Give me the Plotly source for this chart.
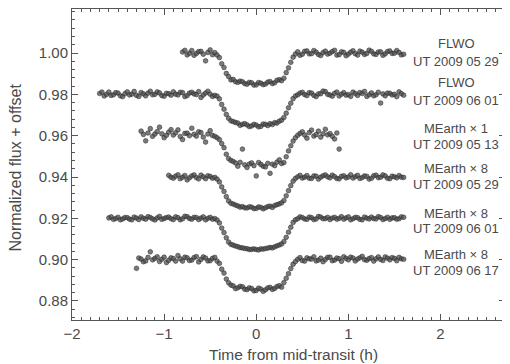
import plotly.graph_objects as go

# ---- data ----
# FLWO, UT 2009 05 29 (offset 0.00)
t1 = [-0.800,-0.775,-0.750,-0.725,-0.700,-0.675,-0.650,-0.625,
      -0.600,-0.575,-0.550,-0.525,-0.500,-0.475,-0.450,-0.425,
      -0.400,-0.375,-0.350,-0.325,-0.300,-0.275,-0.250,-0.225,
      -0.200,-0.175,-0.150,-0.125,-0.100,-0.075,-0.050,-0.025,
      0.000,0.025,0.050,0.075,0.100,0.125,0.150,0.175,
      0.200,0.225,0.250,0.275,0.300,0.325,0.350,0.375,
      0.400,0.425,0.450,0.475,0.500,0.525,0.550,0.575,
      0.600,0.625,0.650,0.675,0.700,0.725,0.750,0.775,
      0.800,0.825,0.850,0.875,0.900,0.925,0.950,0.975,
      1.000,1.025,1.050,1.075,1.100,1.125,1.150,1.175,
      1.200,1.225,1.250,1.275,1.300,1.325,1.350,1.375,
      1.400,1.425,1.450,1.475,1.500,1.525,1.550,1.575,
      1.600]
f1 = [1.0005,1.0013,0.9991,0.9999,1.0012,0.9989,0.9998,1.0007,
      1.0008,0.9994,0.9962,1.0003,1.0015,0.9992,1.0002,0.9990,
      0.9978,0.9948,0.9930,0.9901,0.9886,0.9870,0.9872,0.9861,
      0.9858,0.9864,0.9861,0.9852,0.9849,0.9858,0.9856,0.9845,
      0.9846,0.9857,0.9854,0.9847,0.9850,0.9859,0.9862,0.9852,
      0.9856,0.9868,0.9871,0.9866,0.9878,0.9905,0.9928,0.9955,
      0.9980,0.9995,1.0006,0.9989,0.9994,1.0008,1.0010,0.9996,
      0.9997,1.0012,1.0004,0.9993,0.9988,1.0002,1.0009,0.9995,
      0.9999,1.0007,1.0013,0.9990,0.9992,1.0006,1.0003,0.9987,
      0.9995,1.0004,1.0011,0.9997,0.9990,1.0009,1.0004,0.9993,
      0.9998,1.0014,1.0008,0.9996,0.9993,1.0005,1.0006,0.9989,
      0.9996,1.0007,1.0010,0.9998,0.9999,1.0012,1.0003,0.9991,
      0.9994]

# FLWO, UT 2009 06 01 (offset -0.02)
t2 = [-1.700,-1.675,-1.650,-1.625,-1.600,-1.575,-1.550,-1.525,
      -1.500,-1.475,-1.450,-1.425,-1.400,-1.375,-1.350,-1.325,
      -1.300,-1.275,-1.250,-1.225,-1.200,-1.175,-1.150,-1.125,
      -1.100,-1.075,-1.050,-1.025,-1.000,-0.975,-0.950,-0.925,
      -0.900,-0.875,-0.850,-0.825,-0.800,-0.775,-0.750,-0.725,
      -0.700,-0.675,-0.650,-0.625,-0.600,-0.575,-0.550,-0.525,
      -0.500,-0.475,-0.450,-0.425,-0.400,-0.375,-0.350,-0.325,
      -0.300,-0.275,-0.250,-0.225,-0.200,-0.175,-0.150,-0.125,
      -0.100,-0.075,-0.050,-0.025,0.000,0.025,0.050,0.075,
      0.100,0.125,0.150,0.175,0.200,0.225,0.250,0.275,
      0.300,0.325,0.350,0.375,0.400,0.425,0.450,0.475,
      0.500,0.525,0.550,0.575,0.600,0.625,0.650,0.675,
      0.700,0.725,0.750,0.775,0.800,0.825,0.850,0.875,
      0.900,0.925,0.950,0.975,1.000,1.025,1.050,1.075,
      1.100,1.125,1.150,1.175,1.200,1.225,1.250,1.275,
      1.300,1.325,1.350,1.375,1.400,1.425,1.450,1.475,
      1.500,1.525,1.550,1.575,1.600]
f2 = [0.9804,0.9811,0.9792,0.9800,0.9811,0.9795,0.9798,0.9808,
      0.9806,0.9793,0.9789,0.9803,0.9812,0.9797,0.9801,0.9814,
      0.9795,0.9790,0.9809,0.9802,0.9793,0.9806,0.9815,0.9798,
      0.9800,0.9812,0.9807,0.9794,0.9791,0.9805,0.9803,0.9796,
      0.9812,0.9801,0.9797,0.9810,0.9808,0.9789,0.9794,0.9806,
      0.9810,0.9802,0.9799,0.9813,0.9785,0.9797,0.9806,0.9815,
      0.9801,0.9790,0.9795,0.9791,0.9778,0.9751,0.9728,0.9703,
      0.9684,0.9672,0.9668,0.9664,0.9661,0.9650,0.9655,0.9658,
      0.9652,0.9644,0.9647,0.9655,0.9651,0.9643,0.9645,0.9656,
      0.9655,0.9649,0.9658,0.9654,0.9663,0.9661,0.9670,0.9675,
      0.9688,0.9709,0.9735,0.9757,0.9779,0.9792,0.9798,0.9806,
      0.9810,0.9799,0.9794,0.9808,0.9806,0.9795,0.9789,0.9802,
      0.9803,0.9816,0.9813,0.9800,0.9797,0.9791,0.9805,0.9811,
      0.9792,0.9801,0.9808,0.9796,0.9799,0.9790,0.9811,0.9804,
      0.9795,0.9809,0.9804,0.9814,0.9790,0.9798,0.9807,0.9793,
      0.9798,0.9810,0.9758,0.9802,0.9793,0.9806,0.9805,0.9797,
      0.9800,0.9789,0.9812,0.9803,0.9796]

# MEarth x 1, UT 2009 05 13 (offset -0.04)
t3 = [-1.250,-1.225,-1.200,-1.175,-1.150,-1.125,-1.100,-1.075,
      -1.050,-1.025,-1.000,-0.975,-0.950,-0.925,-0.900,-0.875,
      -0.850,-0.825,-0.800,-0.775,-0.750,-0.725,-0.700,-0.675,
      -0.650,-0.625,-0.600,-0.575,-0.550,-0.525,-0.500,-0.475,
      -0.450,-0.425,-0.400,-0.375,-0.350,-0.325,-0.300,-0.275,
      -0.250,-0.225,-0.200,-0.175,-0.150,-0.125,-0.100,-0.075,
      -0.050,-0.025,0.000,0.025,0.050,0.075,0.100,0.125,
      0.150,0.175,0.200,0.225,0.250,0.275,0.300,0.325,
      0.350,0.375,0.400,0.425,0.450,0.475,0.500,0.525,
      0.550,0.575,0.600,0.625,0.650,0.675,0.700,0.725,
      0.750,0.775,0.800,0.825,0.850,0.875,0.900]
f3 = [0.9622,0.9606,0.9575,0.9613,0.9634,0.9597,0.9608,0.9620,
      0.9641,0.9609,0.9590,0.9602,0.9617,0.9629,0.9603,0.9614,
      0.9628,0.9596,0.9581,0.9611,0.9612,0.9600,0.9636,0.9607,
      0.9598,0.9619,0.9615,0.9593,0.9569,0.9608,0.9624,0.9601,
      0.9597,0.9590,0.9581,0.9562,0.9542,0.9510,0.9489,0.9480,
      0.9475,0.9468,0.9452,0.9471,0.9535,0.9459,0.9446,0.9463,
      0.9468,0.9455,0.9405,0.9470,0.9461,0.9452,0.9449,0.9466,
      0.9418,0.9462,0.9455,0.9472,0.9483,0.9465,0.9470,0.9498,
      0.9526,0.9551,0.9574,0.9590,0.9602,0.9611,0.9619,0.9603,
      0.9588,0.9615,0.9627,0.9598,0.9605,0.9622,0.9593,0.9609,
      0.9631,0.9604,0.9610,0.9597,0.9584,0.9613,0.9535]

# MEarth x 8, UT 2009 05 29 (offset -0.06)
t4 = [-0.950,-0.925,-0.900,-0.875,-0.850,-0.825,-0.800,-0.775,
      -0.750,-0.725,-0.700,-0.675,-0.650,-0.625,-0.600,-0.575,
      -0.550,-0.525,-0.500,-0.475,-0.450,-0.425,-0.400,-0.375,
      -0.350,-0.325,-0.300,-0.275,-0.250,-0.225,-0.200,-0.175,
      -0.150,-0.125,-0.100,-0.075,-0.050,-0.025,0.000,0.025,
      0.050,0.075,0.100,0.125,0.150,0.175,0.200,0.225,
      0.250,0.275,0.300,0.325,0.350,0.375,0.400,0.425,
      0.450,0.475,0.500,0.525,0.550,0.575,0.600,0.625,
      0.650,0.675,0.700,0.725,0.750,0.775,0.800,0.825,
      0.850,0.875,0.900,0.925,0.950,0.975,1.000,1.025,
      1.050,1.075,1.100,1.125,1.150,1.175,1.200,1.225,
      1.250,1.275,1.300,1.325,1.350,1.375,1.400,1.425,
      1.450,1.475,1.500,1.525,1.550,1.575,1.600]
f4 = [0.9408,0.9399,0.9394,0.9404,0.9411,0.9392,0.9399,0.9407,
      0.9386,0.9396,0.9405,0.9410,0.9397,0.9391,0.9409,0.9401,
      0.9392,0.9406,0.9403,0.9394,0.9398,0.9390,0.9376,0.9352,
      0.9330,0.9305,0.9284,0.9273,0.9269,0.9264,0.9260,0.9254,
      0.9257,0.9251,0.9250,0.9256,0.9254,0.9247,0.9248,0.9255,
      0.9253,0.9246,0.9251,0.9257,0.9259,0.9253,0.9262,0.9266,
      0.9270,0.9275,0.9286,0.9309,0.9334,0.9358,0.9380,0.9393,
      0.9401,0.9408,0.9395,0.9399,0.9407,0.9394,0.9393,0.9405,
      0.9404,0.9390,0.9399,0.9406,0.9410,0.9401,0.9396,0.9409,
      0.9402,0.9393,0.9391,0.9403,0.9406,0.9396,0.9400,0.9411,
      0.9395,0.9402,0.9408,0.9393,0.9397,0.9405,0.9403,0.9390,
      0.9394,0.9406,0.9409,0.9397,0.9399,0.9410,0.9405,0.9394,
      0.9392,0.9404,0.9401,0.9396,0.9407,0.9399,0.9398]

# MEarth x 8, UT 2009 06 01 (offset -0.08)
t5 = [-1.600,-1.575,-1.550,-1.525,-1.500,-1.475,-1.450,-1.425,
      -1.400,-1.375,-1.350,-1.325,-1.300,-1.275,-1.250,-1.225,
      -1.200,-1.175,-1.150,-1.125,-1.100,-1.075,-1.050,-1.025,
      -1.000,-0.975,-0.950,-0.925,-0.900,-0.875,-0.850,-0.825,
      -0.800,-0.775,-0.750,-0.725,-0.700,-0.675,-0.650,-0.625,
      -0.600,-0.575,-0.550,-0.525,-0.500,-0.475,-0.450,-0.425,
      -0.400,-0.375,-0.350,-0.325,-0.300,-0.275,-0.250,-0.225,
      -0.200,-0.175,-0.150,-0.125,-0.100,-0.075,-0.050,-0.025,
      0.000,0.025,0.050,0.075,0.100,0.125,0.150,0.175,
      0.200,0.225,0.250,0.275,0.300,0.325,0.350,0.375,
      0.400,0.425,0.450,0.475,0.500,0.525,0.550,0.575,
      0.600,0.625,0.650,0.675,0.700,0.725,0.750,0.775,
      0.800,0.825,0.850,0.875,0.900,0.925,0.950,0.975,
      1.000,1.025,1.050,1.075,1.100,1.125,1.150,1.175,
      1.200,1.225,1.250,1.275,1.300,1.325,1.350,1.375,
      1.400,1.425,1.450,1.475,1.500,1.525,1.550,1.575,
      1.600]
f5 = [0.9202,0.9207,0.9195,0.9199,0.9205,0.9193,0.9197,0.9204,
      0.9203,0.9196,0.9193,0.9206,0.9201,0.9194,0.9207,0.9200,
      0.9196,0.9208,0.9204,0.9197,0.9192,0.9202,0.9209,0.9195,
      0.9199,0.9204,0.9206,0.9198,0.9194,0.9207,0.9203,0.9193,
      0.9198,0.9210,0.9208,0.9199,0.9196,0.9205,0.9204,0.9194,
      0.9201,0.9207,0.9193,0.9200,0.9205,0.9196,0.9199,0.9192,
      0.9178,0.9153,0.9131,0.9106,0.9085,0.9074,0.9070,0.9066,
      0.9063,0.9058,0.9057,0.9054,0.9053,0.9049,0.9050,0.9052,
      0.9049,0.9047,0.9052,0.9051,0.9054,0.9056,0.9059,0.9057,
      0.9062,0.9067,0.9071,0.9076,0.9087,0.9108,0.9133,0.9157,
      0.9180,0.9193,0.9198,0.9207,0.9204,0.9197,0.9195,0.9206,
      0.9203,0.9194,0.9197,0.9209,0.9206,0.9198,0.9199,0.9205,
      0.9194,0.9201,0.9205,0.9196,0.9200,0.9208,0.9196,0.9202,
      0.9207,0.9193,0.9198,0.9205,0.9203,0.9195,0.9193,0.9206,
      0.9201,0.9197,0.9206,0.9199,0.9197,0.9208,0.9204,0.9194,
      0.9199,0.9205,0.9195,0.9202,0.9203,0.9196,0.9198,0.9207,
      0.9205]

# MEarth x 8, UT 2009 06 17 (offset -0.10)
t6 = [-1.300,-1.275,-1.250,-1.225,-1.200,-1.175,-1.150,-1.125,
      -1.100,-1.075,-1.050,-1.025,-1.000,-0.975,-0.950,-0.925,
      -0.900,-0.875,-0.850,-0.825,-0.800,-0.775,-0.750,-0.725,
      -0.700,-0.675,-0.650,-0.625,-0.600,-0.575,-0.550,-0.525,
      -0.500,-0.475,-0.450,-0.425,-0.400,-0.375,-0.350,-0.325,
      -0.300,-0.275,-0.250,-0.225,-0.200,-0.175,-0.150,-0.125,
      -0.100,-0.075,-0.050,-0.025,0.000,0.025,0.050,0.075,
      0.100,0.125,0.150,0.175,0.200,0.225,0.250,0.275,
      0.300,0.325,0.350,0.375,0.400,0.425,0.450,0.475,
      0.500,0.525,0.550,0.575,0.600,0.625,0.650,0.675,
      0.700,0.725,0.750,0.775,0.800,0.825,0.850,0.875,
      0.900,0.925,0.950,0.975,1.000,1.025,1.050,1.075,
      1.100,1.125,1.150,1.175,1.200,1.225,1.250,1.275,
      1.300,1.325,1.350,1.375,1.400,1.425,1.450,1.475,
      1.500,1.525,1.550,1.575,1.600]
f6 = [0.8958,0.9008,0.9003,0.8990,0.8994,0.9011,0.9038,0.8999,
      0.9006,0.9014,0.8991,0.9002,0.9012,0.8986,0.8997,0.9009,
      0.9005,0.8993,0.9020,0.9004,0.8993,0.9012,0.9009,0.8996,
      0.8998,0.9010,0.9015,0.8989,0.9001,0.9013,0.9008,0.8994,
      0.8995,0.9006,0.9011,0.8993,0.8982,0.8954,0.8935,0.8906,
      0.8888,0.8877,0.8873,0.8860,0.8864,0.8871,0.8869,0.8857,
      0.8855,0.8864,0.8860,0.8849,0.8851,0.8862,0.8858,0.8847,
      0.8854,0.8863,0.8866,0.8856,0.8861,0.8870,0.8874,0.8867,
      0.8889,0.8910,0.8932,0.8957,0.8978,0.8991,0.9002,0.9010,
      0.8996,0.8993,0.9009,0.9004,0.9003,0.9014,0.8994,0.8998,
      0.9007,0.8990,0.9001,0.9011,0.9012,0.8995,0.8998,0.9008,
      0.9005,0.8992,0.9014,0.9006,0.8999,0.9012,0.9008,0.8994,
      0.9003,0.9009,0.9016,0.9000,0.8997,0.9005,0.9010,0.8993,
      0.9004,0.9013,0.9001,0.8996,0.9013,0.9007,0.8999,0.9010,
      0.9006,0.8995,0.9011,0.9004,0.9002]

instruments = ["FLWO", "FLWO", "MEarth × 1", "MEarth × 8", "MEarth × 8", "MEarth × 8"]
dates = ["UT 2009 05 29", "UT 2009 06 01", "UT 2009 05 13", "UT 2009 05 29", "UT 2009 06 01", "UT 2009 06 17"]
label_y1 = [1.0048, 0.9855, 0.9637, 0.9443, 0.9225, 0.9027]
label_y2 = [0.9961, 0.9768, 0.9559, 0.9366, 0.9153, 0.8949]
label_x = 2.17

y_ticks = [0.88, 0.90, 0.92, 0.94, 0.96, 0.98, 1.00]
x_ticks = [-2, -1, 0, 1, 2]
x_title = "Time from mid-transit (h)"
y_title = "Normalized flux + offset"

series = [(t1, f1), (t2, f2), (t3, f3), (t4, f4), (t5, f5), (t6, f6)]

fig = go.Figure()
for t, f in series:
    fig.add_trace(go.Scatter(
        x=t, y=f, mode="markers",
        marker=dict(size=4.7, color="rgba(80,80,80,0.75)",
                    line=dict(color="rgba(35,35,35,0.85)", width=0.6)),
        showlegend=False, hoverinfo="skip"))

FONT = "Liberation Sans, Arial, sans-serif"
TXT = "#4a4a4a"
for ins, d, y1, y2 in zip(instruments, dates, label_y1, label_y2):
    fig.add_annotation(x=label_x, y=y1, text=ins, showarrow=False, xanchor="center", yanchor="middle",
                       font=dict(family=FONT, size=13, color=TXT))
    fig.add_annotation(x=label_x, y=y2, text=d, showarrow=False, xanchor="center", yanchor="middle",
                       font=dict(family=FONT, size=13, color=TXT))

# axis titles
fig.add_annotation(xref="paper", yref="paper", x=0, y=0.5, xshift=-57, yshift=-3, textangle=-90,
                   text=y_title, showarrow=False, xanchor="center", yanchor="middle",
                   font=dict(family=FONT, size=16, color=TXT))
fig.add_annotation(xref="paper", yref="paper", x=0.5, y=0, yshift=-34, xshift=5,
                   text=x_title, showarrow=False, xanchor="center", yanchor="middle",
                   font=dict(family=FONT, size=15.5, color=TXT))

axis_common = dict(showline=True, linecolor="#555", linewidth=1, mirror="ticks", ticks="inside",
                   tickcolor="#555", showgrid=False, zeroline=False, automargin=False,
                   tickfont=dict(family=FONT, size=15, color=TXT))

fig.update_xaxes(range=[-2, 2.7], tickvals=x_ticks, ticklen=6,
                 minor=dict(dtick=0.1, tick0=0, ticks="inside", ticklen=3, tickcolor="#555"),
                 **axis_common)
fig.update_yaxes(range=[0.8708, 1.0213], tickvals=y_ticks, tickformat=".2f", ticklen=6,
                 minor=dict(dtick=0.004, tick0=0.88, ticks="inside", ticklen=3, tickcolor="#555"),
                 **axis_common)

# the page places the figure 8 px in from the top-left corner of the window
fig.update_layout(width=502, height=356, plot_bgcolor="white", paper_bgcolor="white",
                  margin=dict(l=64, r=5, t=1, b=44))

fig.write_html("out.html")
